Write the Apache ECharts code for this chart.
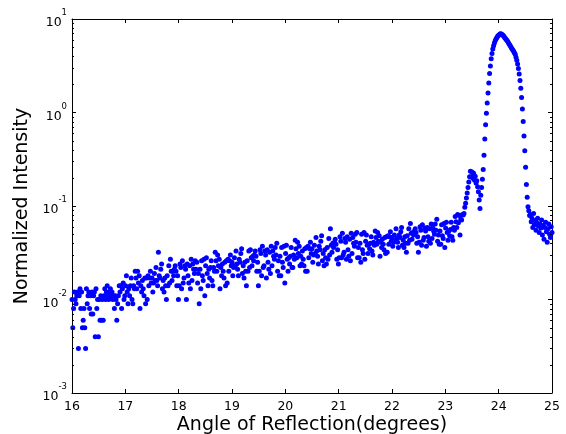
<!DOCTYPE html>
<html>
<head>
<meta charset="utf-8">
<script src="https://cdn.jsdelivr.net/npm/echarts@6/dist/echarts.min.js"></script>
<style>
html,body{margin:0;padding:0;background:#fff;}
#chart{width:566px;height:434px;}
</style>
</head>
<body>
<div id="chart"></div>
<script>
// Scan grid (degrees)
const angleStart = 16;
const angleStep = 0.015;

// Baseline intensities 16.000 .. 23.290, read in units of 1e-3
const baselineMilli = [
10,5,8,12,10,9,11,
12,3,11,13,8,12,5,
6,8,5,3,13,9,
11,12,8,11,7,12,7,
11,12,4,13,8,10,4,
10,6,11,6,10,6,
11,13,10,12,14,11,10,
12,13,11,12,10,11,8,
11,10,6,9,11,14,
12,14,8,13,15,10,11,
14,18,12,9,13,11,14,
17,10,9,14,13,20,
17,13,20,15,18,8,14,
12,16,13,11,17,9,17,
10,18,14,17,20,15,
17,12,15,19,16,22,16,
14,32,18,17,21,24,13,
16,12,17,14,10,18,
14,23,15,27,20,16,20,
18,21,23,20,14,18,10,
14,24,22,13,26,15,
17,23,21,10,24,18,15,
23,13,27,16,24,21,19,
26,21,25,15,19,9,
21,13,26,18,16,27,11,
23,28,19,14,21,17,22,
26,16,14,22,20,32,
26,20,30,23,27,13,22,
18,24,20,17,25,14,26,
15,27,20,26,30,23,
25,18,22,28,23,33,24,
21,18,27,25,31,35,19,
23,17,25,20,14,26,
20,33,22,34,28,23,29,
26,30,33,29,20,25,14,
20,34,31,18,37,22,
23,33,30,17,34,25,21,
32,19,37,23,33,29,27,
36,30,40,20,26,18,
29,18,36,25,22,37,15,
31,38,27,20,28,24,29,
36,22,22,30,27,43,
35,28,41,31,37,23,29,
24,33,27,23,35,20,36,
20,37,28,35,41,31,
35,25,30,38,31,46,33,
29,24,37,34,42,48,26,
31,23,34,28,24,36,
27,45,30,57,38,32,40,
36,41,44,39,27,34,24,
28,47,42,28,51,30,
32,45,41,27,47,34,29,
44,26,51,31,46,40,37,
50,41,52,28,36,28,
40,25,50,34,31,52,27,
42,49,38,31,39,35,40,
47,33,30,41,38,54,
46,39,52,42,48,29,41,
36,44,39,34,46,31,47,
32,48,39,47,53,42,
46,37,41,49,43,57,45,
41,36,49,46,53,59,38,
43,36,47,40,32,48,
40,57,43,65,51,44,52,
49,54,57,52,40,47,32,
41,60,55,38,63,43,
46,58,54,37,59,47,42,
57,40,64,45,59,54,50,
64,55,72,42,49,39,
54,39,63,48,45,65,36,
58,67,52,43,54,48,56,
67,47,43,59,55,77,
68,59,81,66,79,49,72
];

// Shoulder and Bragg peak 23.305 .. 24.580
const peakIntensity = [
0.071,0.081,0.080,0.083,0.097,0.107,0.122,0.138,0.158,0.181,
0.205,0.236,0.205,0.231,0.198,0.224,0.190,0.208,0.176,0.186,
0.161,0.142,0.116,0.094,0.130,0.158,0.193,0.245,0.35,0.52,
0.74,0.98,1.26,1.62,2.07,2.62,3.15,3.75,4.28,4.78,
5.18,5.55,5.87,6.10,6.32,6.52,6.67,6.80,6.91,6.95,
6.89,6.78,6.65,6.48,6.30,6.14,6.00,5.84,5.66,5.48,
5.30,5.14,4.97,4.82,4.67,4.52,4.35,4.20,3.90,3.62,
3.31,2.95,2.58,2.20,1.82,1.45,1.09,0.80,0.56,0.39,
0.26,0.17,0.124,0.098,0.089,0.079
];

// Tail after the peak 24.595 .. 25.000
const tailIntensity = [
0.081,0.068,0.074,0.059,0.083,0.063,0.070,0.055,0.066,0.074,
0.061,0.052,0.064,0.058,0.071,0.049,0.062,0.044,0.059,0.067,
0.053,0.041,0.057,0.064,0.050,0.046,0.060,0.052
];

const xMin = 16, xMax = 25, xInterval = 1;
const yMin = 0.001, yMax = 10;
const yTickExponents = [-3, -2, -1, 0, 1];

const intensities = baselineMilli.map(v => v / 1000).concat(peakIntensity, tailIntensity);
const points = intensities.map((v, i) => [+(angleStart + i * angleStep).toFixed(3), v]);

const minorTicks = [];
for (let k = yTickExponents[0]; k < yTickExponents[yTickExponents.length - 1]; k++) {
  for (let m = 2; m <= 9; m++) minorTicks.push([xMin, m * Math.pow(10, k)]);
}

const FONT = 'DejaVu Sans';
const chart = echarts.init(document.getElementById('chart'), null, {renderer: 'canvas'});

const axisLineStyle = {color: '#000', width: 1};
const yLabel = {
  show: true,
  margin: 5,
  formatter: v => '{b|10}{e|' + Math.round(Math.log10(v)) + '}',
  rich: {
    b: {fontSize: 12.5, fontFamily: FONT, color: '#000', lineHeight: 14, padding: [8, 0, 0, 0]},
    e: {fontSize: 8.5, fontFamily: FONT, color: '#000', lineHeight: 10, padding: [0, 0, 12, 0]}
  }
};

chart.setOption({
  animation: false,
  backgroundColor: '#fff',
  grid: {left: 72, right: 14, top: 19, bottom: 41, containLabel: false, outerBoundsMode: 'none'},
  xAxis: [{
    type: 'value', min: xMin, max: xMax, interval: xInterval, position: 'bottom',
    name: 'Angle of Reflection(degrees)', nameLocation: 'middle', nameGap: 23,
    nameMoveOverlap: false,
    nameTextStyle: {fontSize: 19, fontFamily: FONT, color: '#000'},
    axisLine: {show: true, lineStyle: axisLineStyle},
    axisTick: {show: true, inside: true, length: 4, lineStyle: axisLineStyle},
    axisLabel: {fontSize: 12.5, fontFamily: FONT, color: '#000', margin: 7},
    splitLine: {show: false}
  }, {
    type: 'value', min: xMin, max: xMax, interval: xInterval, position: 'top',
    axisLine: {show: true, lineStyle: axisLineStyle},
    axisTick: {show: true, inside: true, length: 4, lineStyle: axisLineStyle},
    axisLabel: {show: false},
    splitLine: {show: false}
  }],
  yAxis: [{
    type: 'log', logBase: 10, min: yMin, max: yMax, splitNumber: 4, position: 'left',
    name: 'Normalized Intensity', nameLocation: 'middle', nameGap: 38,
    nameTextStyle: {fontSize: 19, fontFamily: FONT, color: '#000'},
    axisLine: {show: true, lineStyle: axisLineStyle},
    axisTick: {show: true, inside: true, length: 4, lineStyle: axisLineStyle},
    axisLabel: yLabel,
    splitLine: {show: false}
  }, {
    type: 'log', logBase: 10, min: yMin, max: yMax, splitNumber: 4, position: 'right',
    axisLine: {show: true, lineStyle: axisLineStyle},
    axisTick: {show: true, inside: true, length: 4, lineStyle: axisLineStyle},
    axisLabel: {show: false},
    splitLine: {show: false}
  }],
  series: [{
    type: 'scatter',
    data: points,
    symbol: 'circle',
    symbolSize: 5,
    itemStyle: {color: '#0000ff', opacity: 1},
    large: false,
    silent: true
  }, {
    type: 'custom',
    data: minorTicks,
    encode: {x: 0, y: 1},
    silent: true,
    clip: false,
    z: 10,
    renderItem: function (params, api) {
      const p = api.coord([api.value(0), api.value(1)]);
      const cs = params.coordSys;
      const y = Math.round(p[1]) + 0.5;
      return {
        type: 'group',
        children: [
          {type: 'line', shape: {x1: cs.x, y1: y, x2: cs.x + 2, y2: y}, style: {stroke: '#000', lineWidth: 1}},
          {type: 'line', shape: {x1: cs.x + cs.width - 2, y1: y, x2: cs.x + cs.width, y2: y}, style: {stroke: '#000', lineWidth: 1}}
        ]
      };
    }
  }]
});
</script>
</body>
</html>
